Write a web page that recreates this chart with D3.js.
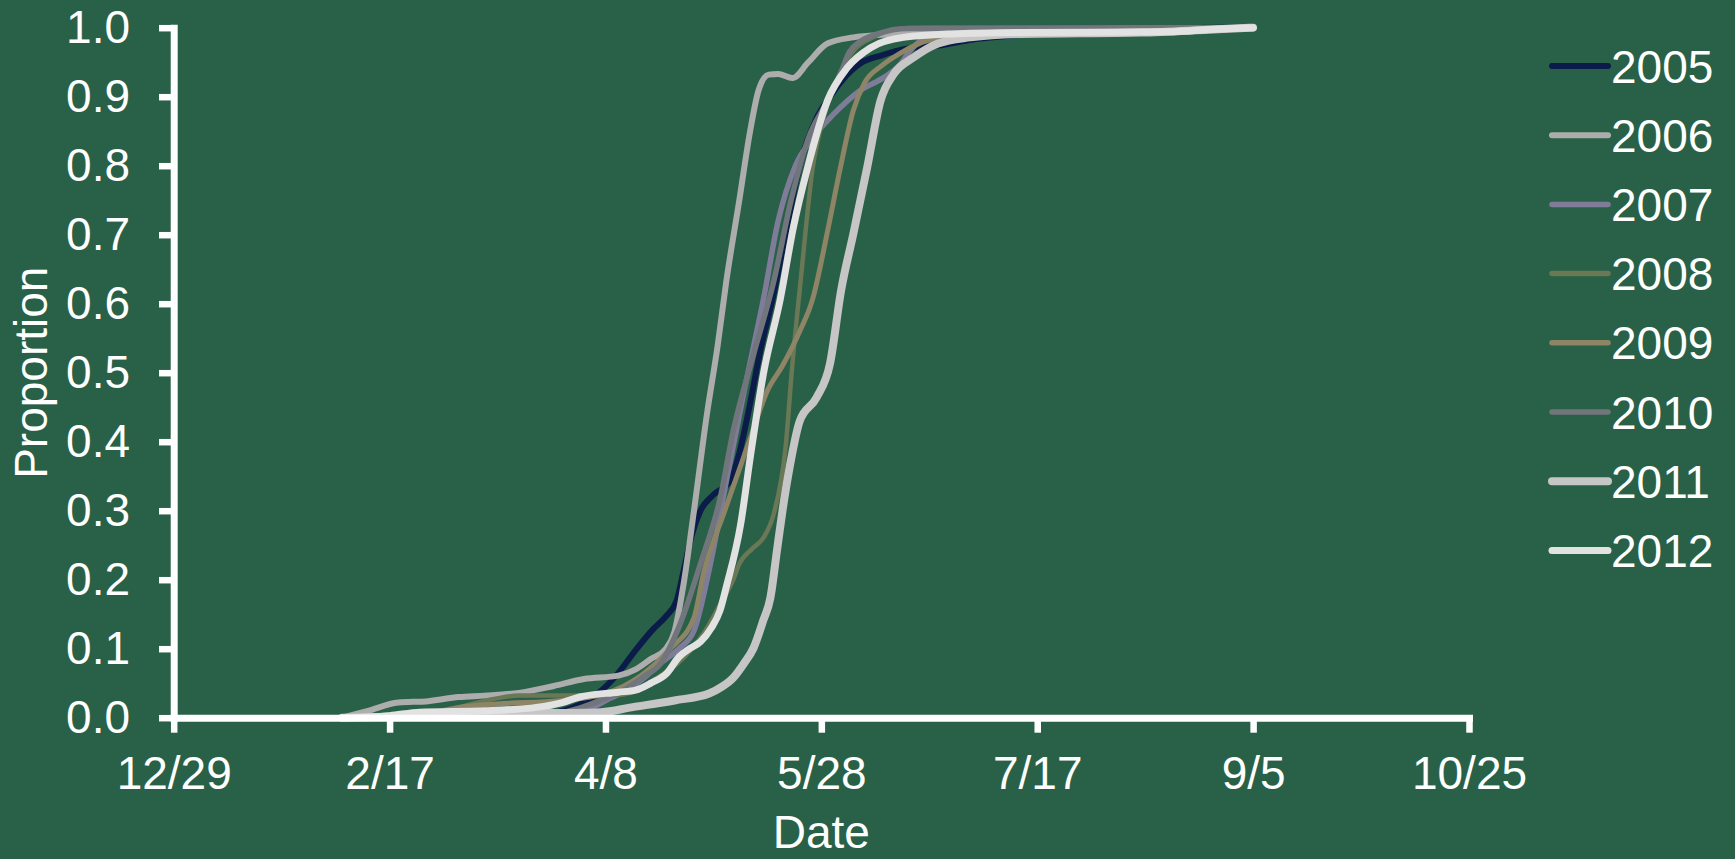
<!DOCTYPE html>
<html>
<head>
<meta charset="utf-8">
<script src="https://cdn.jsdelivr.net/npm/d3@7"></script>
<style>
  html, body { margin: 0; padding: 0; background: #296148; }
  svg { display: block; }
  text { font-family: 'Liberation Sans', Arial, sans-serif; fill: #fff; }
</style>
</head>
<body>
<svg id="chart" width="1735" height="859"></svg>
<script>
// ── Data (x = days after 12/29, y = cumulative proportion) ─────────────────
const years = ['2005', '2006', '2007', '2008', '2009', '2010', '2011', '2012'];

const s2005 = [[39,0],[70,0],[84,0.003],[90,0.01],[95,0.022],[99,0.039],[103,0.065],[107,0.098],
  [111,0.128],[114,0.147],[116.5,0.17],[118,0.21],[120,0.265],[122,0.3],[125,0.323],[129,0.345],
  [131.3,0.391],[133,0.44],[136,0.536],[138.7,0.607],[142,0.71],[145,0.8],[149,0.87],[152,0.9],
  [155,0.925],[159,0.948],[164,0.96],[170,0.97],[177,0.974],[185,0.983],[193,0.988],[205,0.994],
  [225,0.999],[250,1]];
const s2006 = [[39,0],[45,0.01],[52,0.022],[59,0.024],[66,0.03],[72,0.032],[80,0.036],[88,0.046],
  [95,0.056],[103,0.061],[107,0.07],[110.5,0.085],[114,0.1],[116,0.125],[118,0.19],[120.5,0.3],
  [123.5,0.44],[126,0.54],[128,0.633],[131,0.75],[133.5,0.85],[135.5,0.91],[137.8,0.932],
  [140,0.933],[143.3,0.927],[147,0.95],[151.4,0.977],[157.4,0.986],[165,0.99],[180,0.994],
  [200,0.997],[250,1]];
const s2007 = [[39,0],[85,0],[92,0.005],[97,0.015],[101,0.028],[105,0.04],[109,0.058],[113,0.08],
  [117,0.1],[120.5,0.126],[124.3,0.223],[128,0.343],[132,0.47],[136.6,0.607],[140,0.72],[144,0.8],
  [148,0.84],[152.9,0.875],[159,0.909],[164.5,0.928],[168,0.945],[170.6,0.967],[173,0.981],
  [178,0.991],[190,0.998],[250,1]];
const s2008 = [[39,0],[55,0.003],[63,0.008],[68,0.018],[72.5,0.025],[80,0.032],[92,0.032],
  [103,0.033],[108,0.042],[112,0.058],[116.6,0.078],[120,0.1],[123,0.125],[126.6,0.165],
  [129.6,0.2],[131,0.223],[134,0.245],[136.6,0.261],[139,0.296],[141.7,0.391],[143.3,0.513],
  [145.2,0.633],[148,0.797],[151,0.88],[154,0.93],[157.5,0.967],[162,0.986],[167,0.998],
  [175,1],[250,1]];
const s2009 = [[39,0],[58,0.005],[66,0.015],[75,0.02],[90,0.025],[100,0.035],[108,0.06],[115,0.1],
  [120.5,0.145],[122.7,0.209],[127.4,0.296],[133.6,0.406],[137.5,0.474],[141,0.51],[145,0.56],
  [148,0.607],[151.4,0.704],[154.4,0.797],[157.4,0.88],[160,0.92],[164,0.945],[168,0.962],
  [173,0.978],[180,0.99],[190,0.997],[250,1]];
const s2010 = [[39,0],[80,0],[88,0.005],[94,0.014],[100,0.028],[105,0.043],[109,0.06],[112.7,0.078],
  [117.3,0.136],[122,0.223],[126.6,0.319],[129.6,0.416],[134,0.52],[139,0.633],[143,0.75],
  [147,0.84],[151.4,0.894],[154.4,0.933],[156.5,0.965],[159,0.98],[163,0.991],[170,0.999],[250,1]];
const s2011 = [[39,0],[60,0.003],[80,0.006],[99,0.008],[106,0.015],[116,0.025],[124,0.035],
  [127,0.045],[129.6,0.058],[132,0.078],[134.3,0.101],[136.5,0.14],[138.2,0.174],[139.8,0.246],
  [141,0.3],[142.8,0.368],[145,0.43],[148.9,0.464],[152,0.513],[154.6,0.62],[157.4,0.701],
  [160.6,0.797],[163.7,0.894],[166.8,0.933],[171.4,0.957],[177,0.977],[184.5,0.986],[196,0.991],
  [224,0.993],[239.5,0.997],[250,1]];
const s2012 = [[39,0],[50,0.003],[57,0.008],[72,0.01],[84,0.015],[90,0.022],[94,0.03],[103,0.037],
  [107,0.04],[110.5,0.05],[114.3,0.065],[117,0.088],[119.5,0.1],[122,0.11],[124.5,0.13],
  [126.5,0.155],[128,0.19],[131.3,0.28],[133.6,0.38],[136.6,0.499],[140.5,0.607],[143.5,0.71],
  [146.8,0.797],[151.4,0.894],[156,0.942],[161.4,0.971],[169,0.986],[180,0.991],[196,0.993],
  [230,0.994],[242,0.998],[250,1]];

const seriesValues = [s2005, s2006, s2007, s2008, s2009, s2010, s2011, s2012];
const colors = ['#0b1c4a', '#adadad', '#7f7c9a', '#6a7856', '#8e8567', '#71757c', '#c6c6c6', '#e2e2e2'];
const widths = [6, 6, 5.5, 4.5, 5, 5.5, 8, 7];

const xTickDays = [0, 50, 100, 150, 200, 250, 300];
const yTicks = [0, 0.1, 0.2, 0.3, 0.4, 0.5, 0.6, 0.7, 0.8, 0.9, 1.0];

// ── Scales ───────────────────────────────────────────────────────────────────
const base = Date.UTC(2005, 11, 29);
const toDate = d => new Date(base + d * 864e5);

const x = d3.scaleUtc()
  .domain([toDate(0), toDate(300)])
  .range([173.7, 1469]);
const y = d3.scaleLinear()
  .domain([0, 1])
  .range([717.7, 27.7]);

const svg = d3.select('#chart');
svg.append('rect').attr('width', 1735).attr('height', 859).attr('fill', '#296148');

// ── Lines ────────────────────────────────────────────────────────────────────
const line = d3.line()
  .x(d => x(toDate(d[0])))
  .y(d => y(d[1]))
  .curve(d3.curveMonotoneX);

svg.append('g').selectAll('path')
  .data(seriesValues)
  .join('path')
  .attr('d', line)
  .attr('fill', 'none')
  .attr('stroke', (d, i) => colors[i])
  .attr('stroke-width', (d, i) => widths[i])
  .attr('stroke-linecap', 'round')
  .attr('stroke-linejoin', 'round');

// ── Axes ─────────────────────────────────────────────────────────────────────
const fmt = d3.utcFormat('%-m/%-d');

const xAxis = svg.append('g')
  .attr('transform', `translate(0,${y(0)})`)
  .call(d3.axisBottom(x)
    .tickValues(xTickDays.map(toDate))
    .tickFormat(fmt)
    .tickSize(15)
    .tickSizeOuter(0)
    .tickPadding(24));

const yAxis = svg.append('g')
  .attr('transform', `translate(${x(toDate(0))},0)`)
  .call(d3.axisLeft(y)
    .tickValues(yTicks)
    .tickFormat(d3.format('.1f'))
    .tickSize(14.7)
    .tickSizeOuter(0)
    .tickPadding(29));

[xAxis, yAxis].forEach(g => {
  g.select('.domain')
    .attr('stroke', '#fff')
    .attr('stroke-width', 7)
    .attr('stroke-linecap', 'square');
  g.selectAll('.tick line')
    .attr('stroke', '#fff')
    .attr('stroke-width', 6.5);
  g.selectAll('.tick text')
    .attr('fill', '#fff')
    .style('font-size', '46px')
    .style('font-family', "'Liberation Sans', Arial, sans-serif");
});

// axis titles
svg.append('text')
  .attr('x', (x.range()[0] + x.range()[1]) / 2)
  .attr('y', 848)
  .attr('text-anchor', 'middle')
  .style('font-size', '46px')
  .text('Date');

svg.append('text')
  .attr('transform', `translate(47,${(y(0) + y(1)) / 2}) rotate(-90)`)
  .attr('text-anchor', 'middle')
  .style('font-size', '46px')
  .text('Proportion');

// ── Legend ───────────────────────────────────────────────────────────────────
const legend = svg.append('g').attr('transform', 'translate(1552,66)');
const item = legend.selectAll('g')
  .data(years)
  .join('g')
  .attr('transform', (d, i) => `translate(0,${i * 69.2})`);

item.append('line')
  .attr('x1', 0).attr('x2', 56)
  .attr('stroke', (d, i) => colors[i])
  .attr('stroke-width', (d, i) => Math.max(widths[i], 5.5))
  .attr('stroke-linecap', 'round');

item.append('text')
  .attr('x', 59)
  .attr('dy', '0.36em')
  .style('font-size', '46px')
  .text(d => d);
</script>
</body>
</html>
